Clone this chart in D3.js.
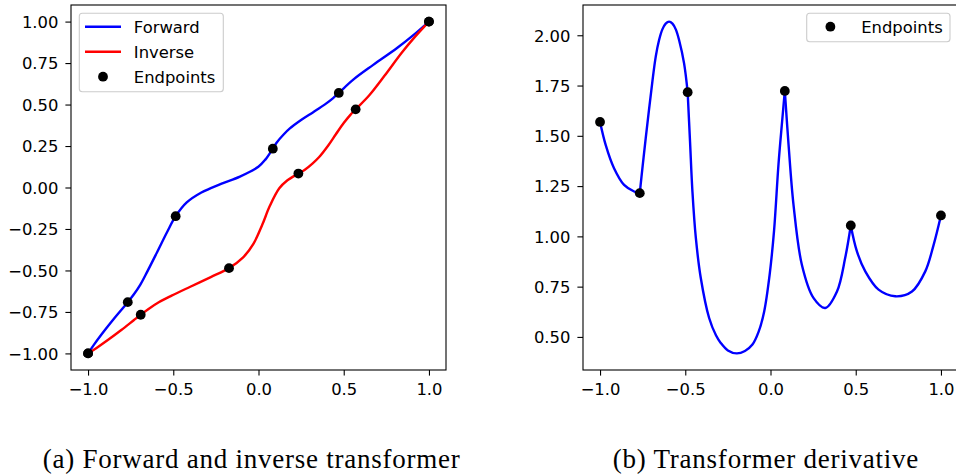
<!DOCTYPE html>
<html><head><meta charset="utf-8">
<script src="https://cdn.jsdelivr.net/npm/d3@7"></script>
<style>body{margin:0;background:#fff}svg{display:block}</style>
</head><body><svg id="c" width="956" height="474"></svg>
<script>
// ---- data ----
const knotX = [-1.0, -0.767, -0.486, 0.084, 0.471, 1.0];
const knotY = [-1.0, -0.691, -0.173, 0.234, 0.570, 1.0];
const knotDeriv = [1.569, 1.215, 1.717, 1.723, 1.054, 1.104];

const fwdX = [-1.0, -0.967, -0.918, -0.859, -0.800, -0.767, -0.732, -0.693, -0.654, -0.595, -0.536, -0.486, -0.421, -0.335, -0.220, -0.109, -0.001, 0.040, 0.084, 0.106, 0.146, 0.184, 0.252, 0.321, 0.390, 0.438, 0.471, 0.556, 0.673, 0.811, 0.905, 1.0];
const fwdY = [-1.0, -0.950, -0.882, -0.805, -0.732, -0.691, -0.645, -0.585, -0.510, -0.390, -0.268, -0.173, -0.090, -0.030, 0.022, 0.066, 0.125, 0.168, 0.234, 0.270, 0.318, 0.356, 0.408, 0.454, 0.501, 0.539, 0.570, 0.650, 0.739, 0.839, 0.915, 1.0];

const invX = [-1.0, -0.950, -0.882, -0.805, -0.732, -0.691, -0.645, -0.585, -0.510, -0.400, -0.280, -0.173, -0.090, -0.030, 0.022, 0.066, 0.122, 0.168, 0.234, 0.270, 0.318, 0.356, 0.408, 0.454, 0.501, 0.539, 0.570, 0.650, 0.739, 0.839, 0.915, 1.0];
const invY = [-1.0, -0.967, -0.918, -0.859, -0.800, -0.767, -0.732, -0.692, -0.652, -0.598, -0.540, -0.486, -0.421, -0.340, -0.225, -0.112, -0.005, 0.042, 0.084, 0.106, 0.146, 0.184, 0.252, 0.321, 0.390, 0.438, 0.471, 0.556, 0.673, 0.811, 0.905, 1.0];

const derivX = [-1.0, -0.967, -0.918, -0.859, -0.800, -0.767,
  -0.750, -0.732, -0.693, -0.673, -0.654, -0.635, -0.615, -0.595, -0.575, -0.555, -0.536, -0.507, -0.486,
  -0.472, -0.458, -0.438, -0.409, -0.360, -0.320, -0.292, -0.250, -0.198, -0.150, -0.106, -0.070, -0.037, -0.005, 0.021, 0.047, 0.068, 0.084,
  0.106, 0.135, 0.184, 0.252, 0.321, 0.390, 0.438, 0.471,
  0.507, 0.556, 0.634, 0.732, 0.830, 0.908, 0.957, 1.0];
const derivY = [1.569, 1.455, 1.339, 1.256, 1.223, 1.215,
  1.350, 1.488, 1.770, 1.895, 1.975, 2.028, 2.058, 2.068, 2.058, 2.028, 1.975, 1.860, 1.717,
  1.470, 1.223, 0.992, 0.793, 0.594, 0.508, 0.470, 0.433, 0.418, 0.430, 0.462, 0.525, 0.627, 0.810, 1.030, 1.360, 1.570, 1.723,
  1.455, 1.157, 0.859, 0.694, 0.644, 0.726, 0.892, 1.054,
  0.925, 0.826, 0.735, 0.702, 0.726, 0.826, 0.958, 1.104];

const xTicks = [-1, -0.5, 0, 0.5, 1];
const xTickLabels = ["\u22121.0", "\u22120.5", "0.0", "0.5", "1.0"];
const yTicksA = [-1, -0.75, -0.5, -0.25, 0, 0.25, 0.5, 0.75, 1];
const yTickLabelsA = ["\u22121.00", "\u22120.75", "\u22120.50", "\u22120.25", "0.00", "0.25", "0.50", "0.75", "1.00"];
const yTicksB = [0.5, 0.75, 1.0, 1.25, 1.5, 1.75, 2.0];
const yTickLabelsB = ["0.50", "0.75", "1.00", "1.25", "1.50", "1.75", "2.00"];
const legendA = ["Forward", "Inverse", "Endpoints"];
const legendB = ["Endpoints"];
const captions = ["(a) Forward and inverse transformer", "(b) Transformer derivative"];

// ---- drawing ----
const svg = d3.select("#c");
const FONT = "'DejaVu Sans', sans-serif";
const FS = 16.4;
const LW = 2.4, MR = 4.9;
const BLUE = "#0000ff", RED = "#ff0000";

const axTop = 5, axBot = 370;
const xA = d3.scaleLinear().domain([-1.1, 1.1]).range([71, 446]);
const yA = d3.scaleLinear().domain([-1.1, 1.1]).range([axBot, axTop]);
const xB = d3.scaleLinear().domain([-1.1, 1.1]).range([583, 958]);
const dMin = d3.min(derivY), dMax = d3.max(derivY), pad = (dMax - dMin) * 0.05;
const yB = d3.scaleLinear().domain([dMin - pad, dMax + pad]).range([axBot, axTop]);

function axes(x, y, yt, yl) {
  const g = svg.append("g");
  const bx = g.append("g").attr("transform", `translate(0,${axBot})`)
    .call(d3.axisBottom(x).tickValues(xTicks).tickFormat((d, i) => xTickLabels[i]).tickSize(5.6).tickSizeOuter(0));
  bx.select(".domain").remove();
  bx.selectAll("line").attr("stroke", "#000").attr("stroke-width", 1.1);
  bx.selectAll("text").attr("y", 25).attr("dy", null).attr("fill", "#000")
    .style("font-family", FONT).style("font-size", FS + "px");
  const ly = g.append("g").attr("transform", `translate(${x.range()[0]},0)`)
    .call(d3.axisLeft(y).tickValues(yt).tickFormat((d, i) => yl[i]).tickSize(5.6).tickPadding(7).tickSizeOuter(0));
  ly.select(".domain").remove();
  ly.selectAll("line").attr("stroke", "#000").attr("stroke-width", 1.1);
  ly.selectAll("text").attr("dy", "0.36em").attr("fill", "#000")
    .style("font-family", FONT).style("font-size", FS + "px");
  return g;
}

function frame(x) {
  svg.append("rect").attr("x", x.range()[0]).attr("y", axTop)
    .attr("width", x.range()[1] - x.range()[0]).attr("height", axBot - axTop)
    .attr("fill", "none").attr("stroke", "#000").attr("stroke-width", 1.1);
}

axes(xA, yA, yTicksA, yTickLabelsA);
axes(xB, yB, yTicksB, yTickLabelsB);

const CURVE = d3.curveCatmullRom.alpha(0.5);

// Left panel curves
const lineA = d3.line().x(d => xA(d[0])).y(d => yA(d[1])).curve(CURVE);
svg.append("path").attr("d", lineA(d3.zip(fwdX, fwdY)))
  .attr("fill", "none").attr("stroke", BLUE).attr("stroke-width", LW).attr("stroke-linejoin", "round");
svg.append("path").attr("d", lineA(d3.zip(invX, invY)))
  .attr("fill", "none").attr("stroke", RED).attr("stroke-width", LW).attr("stroke-linejoin", "round");
const ptsA = d3.zip(knotX, knotY).concat(d3.zip(knotY, knotX));
svg.append("g").selectAll("circle").data(ptsA).join("circle")
  .attr("cx", d => xA(d[0])).attr("cy", d => yA(d[1])).attr("r", MR).attr("fill", "#000");

// Right panel: derivative, drawn knot to knot
const lineB = d3.line().x(d => xB(d[0])).y(d => yB(d[1])).curve(CURVE);
const dpts = d3.zip(derivX, derivY);
for (let i = 0; i < knotX.length - 1; i++) {
  const seg = dpts.filter(p => p[0] >= knotX[i] - 1e-9 && p[0] <= knotX[i + 1] + 1e-9);
  svg.append("path").attr("d", lineB(seg))
    .attr("fill", "none").attr("stroke", BLUE).attr("stroke-width", LW)
    .attr("stroke-linecap", "round").attr("stroke-linejoin", "round");
}
svg.append("g").selectAll("circle").data(d3.zip(knotX, knotDeriv)).join("circle")
  .attr("cx", d => xB(d[0])).attr("cy", d => yB(d[1])).attr("r", MR).attr("fill", "#000");

frame(xA);
frame(xB);

// Legends
function legend(x0, y0, w, labels, kinds) {
  const g = svg.append("g");
  g.append("rect").attr("x", x0).attr("y", y0).attr("width", w).attr("height", labels.length * 25 + 3.4)
    .attr("rx", 3).attr("fill", "#fff").attr("fill-opacity", 0.8)
    .attr("stroke", "#cccccc").attr("stroke-width", 1.1);
  labels.forEach((lab, i) => {
    const cy = y0 + 13.4 + i * 25;
    const k = kinds[i];
    if (k === "dot") {
      g.append("circle").attr("cx", x0 + 23.7).attr("cy", cy).attr("r", MR).attr("fill", "#000");
    } else {
      g.append("line").attr("x1", x0 + 5.7).attr("x2", x0 + 41.7).attr("y1", cy).attr("y2", cy)
        .attr("stroke", k).attr("stroke-width", LW);
    }
    g.append("text").attr("x", x0 + 54.5).attr("y", cy).attr("dy", "0.36em")
      .style("font-family", FONT).style("font-size", FS + "px").attr("fill", "#000").text(lab);
  });
}
legend(79.3, 13.3, 144, legendA, [BLUE, RED, "dot"]);
legend(806.7, 13.3, 143.3, legendB, ["dot"]);

// Captions
const capX = [42.7, 612.7], capW = [417, 305.6];
captions.forEach((c, i) => {
  svg.append("text").attr("x", capX[i]).attr("y", 467.5)
    .attr("textLength", capW[i]).attr("lengthAdjust", "spacing")
    .style("font-family", "'Liberation Serif', 'Times New Roman', serif").style("font-size", "27px")
    .attr("fill", "#000").text(c);
});
</script></body></html>
